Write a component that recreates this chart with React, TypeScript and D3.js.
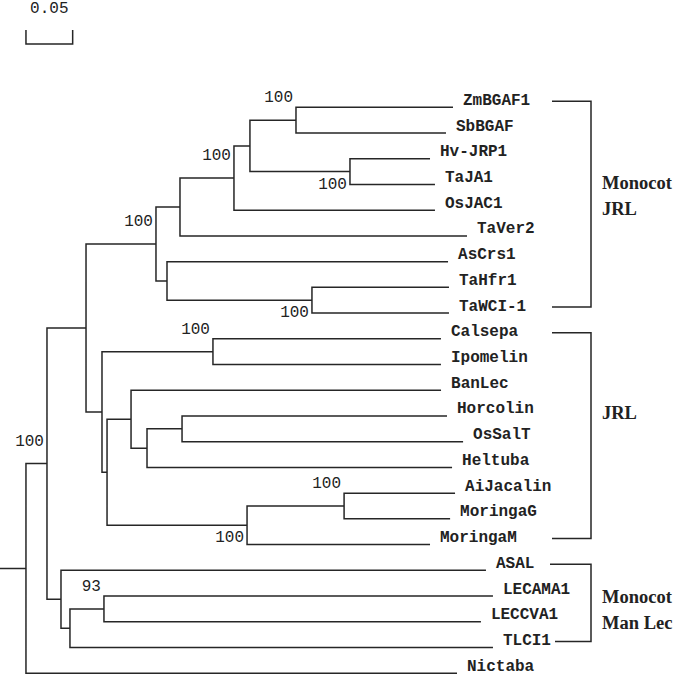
import React from "react";
import * as d3 from "d3";

// ---------- Data ----------
const NODE_IDS = [
  "root", "A", "B", "M1", "M2", "M5", "M6", "ZS", "ZmBGAF1", "SbBGAF", "HT", "Hv-JRP1", "TaJA1",
  "OsJAC1", "TaVer2", "M3", "AsCrs1", "TT", "TaHfr1", "TaWCI-1", "J1", "CI", "Calsepa", "Ipomelin",
  "J2", "J3", "BanLec", "J4", "J5", "Horcolin", "OsSalT", "Heltuba", "MO", "AM", "AiJacalin",
  "MoringaG", "MoringaM", "ML", "ASAL", "LM", "N93", "LECAMA1", "LECCVA1", "TLCI1", "Nictaba",
];
const PARENT_IDS = [
  "", "root", "A", "B", "M1", "M2", "M5", "M6", "ZS", "ZS", "M6", "HT", "HT",
  "M5", "M2", "M1", "M3", "M3", "TT", "TT", "B", "J1", "CI", "CI",
  "J1", "J2", "J3", "J3", "J4", "J5", "J5", "J4", "J2", "MO", "AM",
  "AM", "MO", "A", "ML", "ML", "LM", "N93", "N93", "LM", "root",
];
const BRANCH_LENGTHS = [
  0.0278, 0.0225, 0.0418, 0.0749, 0.0257, 0.0578, 0.0171, 0.0493, 0.1681, 0.1606, 0.1071, 0.0857, 0.0910,
  0.2152, 0.3073, 0.0118, 0.3009, 0.1552, 0.1467, 0.1467, 0.0171, 0.1188, 0.2441, 0.2441,
  0.0054, 0.0257, 0.3319, 0.0171, 0.0375, 0.2837, 0.3009, 0.3266, 0.1499, 0.1039, 0.1188,
  0.1135, 0.1959, 0.0150, 0.4550, 0.0096, 0.0364, 0.4165, 0.4036, 0.4529, 0.4615,
];
const BOOTSTRAP_NODES = ["ZS", "HT", "M5", "M1", "TT", "A", "CI", "AM", "MO", "N93"];
const BOOTSTRAP_VALUES = ["100", "100", "100", "100", "100", "100", "100", "100", "100", "93"];

const GROUP_NAMES = [["Monocot", "JRL"], ["JRL"], ["Monocot", "Man Lec"]];
const GROUP_FIRST = ["ZmBGAF1", "Calsepa", "ASAL"];
const GROUP_LAST = ["TaWCI-1", "MoringaM", "TLCI1"];
const GROUP_LABEL_ROW = ["TaJA1", "Horcolin", "LECAMA1"];

const SCALE_BAR_VALUE = 0.05;
const SCALE_BAR_LABEL = "0.05";

// ---------- Layout ----------
const W = 675;
const H = 675;
const PX_PER_UNIT = 934;
const LEAF_TOP = 107.3;
const LEAF_BOTTOM = 673.2;
const STROKE = "#262626";
const SW = 1.5;
const MONO = "'Liberation Mono', 'Courier New', monospace";
const SERIF = "'Liberation Serif', 'Times New Roman', serif";
// bootstrap label placement: "above" or "below" the node's midpoint
const BOOT_PLACE: Record<string, "above" | "below"> = {
  ZS: "above", HT: "below", M5: "above", M1: "above", TT: "below",
  A: "above", CI: "above", AM: "above", MO: "below", N93: "above",
};
const BRACKET_X = 591;
const BRACKET_LEFT: number[][] = [[552, 552], [552, 552], [550, 555]];
const GROUP_LABEL_DY = [5, 3, 7];

type Row = { id: string; parent: string; len: number };

export default function App() {
  const rows: Row[] = NODE_IDS.map((id, i) => ({ id, parent: PARENT_IDS[i], len: BRANCH_LENGTHS[i] }));
  const root = d3
    .stratify<Row>()
    .id((d) => d.id)
    .parentId((d) => (d.parent === "" ? null : d.parent))(rows);

  const xScale = d3.scaleLinear().domain([0, 0.5]).range([0, 0.5 * PX_PER_UNIT]);

  // cumulative distances
  const depth = new Map<string, number>();
  root.eachBefore((n: any) => {
    const pd = n.parent ? depth.get(n.parent.id)! : 0;
    depth.set(n.id, pd + n.data.len);
  });

  const leaves = root.leaves();
  const yScale = d3
    .scalePoint<string>()
    .domain(leaves.map((l: any) => l.id))
    .range([LEAF_TOP, LEAF_BOTTOM]);

  const pos = new Map<string, { x: number; y: number }>();
  root.eachAfter((n: any) => {
    const x = xScale(depth.get(n.id)!);
    let y: number;
    if (!n.children) y = yScale(n.id)!;
    else {
      const ys = n.children.map((c: any) => pos.get(c.id)!.y);
      y = (ys[0] + ys[ys.length - 1]) / 2;
    }
    pos.set(n.id, { x, y });
  });

  const segs: string[] = [];
  root.each((n: any) => {
    const p = pos.get(n.id)!;
    const px = n.parent ? pos.get(n.parent.id)!.x : xScale(0);
    segs.push(`M${px},${p.y}H${p.x}`);
    if (n.children) {
      const y0 = pos.get(n.children[0].id)!.y;
      const y1 = pos.get(n.children[n.children.length - 1].id)!.y;
      segs.push(`M${p.x},${y0 - SW / 2}V${y1 + SW / 2}`);
    }
  });

  const sb0 = pos.get("root")!.x;
  const sb1 = sb0 + xScale(SCALE_BAR_VALUE) - xScale(0);

  return (
    <svg width={W} height={H} style={{ position: "absolute", left: 0, top: 0, background: "#fff" }}>
      <rect width={W} height={H} fill="#fff" />
      {/* scale bar */}
      <text x={(sb0 + sb1) / 2} y={13} textAnchor="middle" fontFamily={MONO} fontSize={16} fill="#222">
        {SCALE_BAR_LABEL}
      </text>
      <path d={`M${sb0},30V44H${sb1}V30`} fill="none" stroke={STROKE} strokeWidth={SW} />

      {/* tree */}
      <path d={segs.join("")} fill="none" stroke={STROKE} strokeWidth={SW} />

      {/* leaf labels */}
      {leaves.map((l: any) => {
        const p = pos.get(l.id)!;
        return (
          <text key={l.id} x={p.x + 10} y={p.y - 2.5} fontFamily={MONO} fontWeight="bold" fontSize={16} fill="#222">
            {l.id}
          </text>
        );
      })}

      {/* bootstrap values */}
      {BOOTSTRAP_NODES.map((id, i) => {
        const p = pos.get(id)!;
        const above = BOOT_PLACE[id] === "above";
        return (
          <text
            key={id}
            x={p.x - 3}
            y={above ? p.y - 23.5 : p.y + 11.5}
            dy="0.35em"
            textAnchor="end"
            fontFamily={MONO}
            fontSize={16}
            fill="#222"
          >
            {BOOTSTRAP_VALUES[i]}
          </text>
        );
      })}

      {/* group brackets */}
      {GROUP_NAMES.map((names, gi) => {
        const yTop = yScale(GROUP_FIRST[gi])! - 6;
        const yBot = yScale(GROUP_LAST[gi])! - 6;
        const yLab = yScale(GROUP_LABEL_ROW[gi])!;
        return (
          <g key={gi}>
            <path
              d={`M${BRACKET_LEFT[gi][0]},${yTop}H${BRACKET_X}V${yBot}H${BRACKET_LEFT[gi][1]}`}
              fill="none"
              stroke={STROKE}
              strokeWidth={SW}
            />
            {names.map((nm, k) => (
              <text
                key={k}
                x={BRACKET_X + 11}
                y={yLab + GROUP_LABEL_DY[gi] + k * 25.7}
                fontFamily={SERIF}
                fontWeight="bold"
                fontSize={18.5}
                fill="#222"
              >
                {nm}
              </text>
            ))}
          </g>
        );
      })}
    </svg>
  );
}
